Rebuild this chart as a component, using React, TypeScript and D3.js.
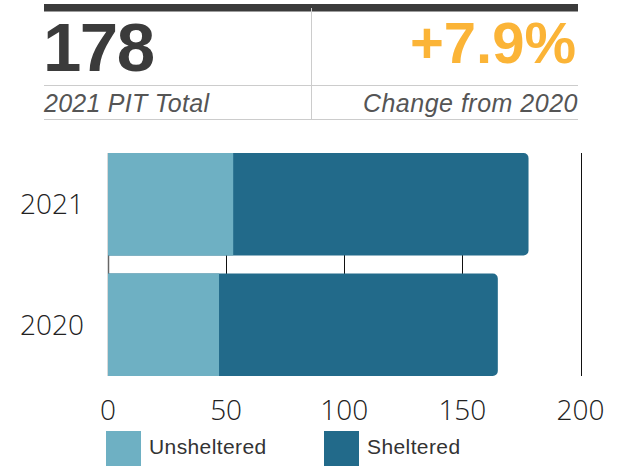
import React from "react";
import * as d3 from "d3";

const years = ["2021", "2020"];
const unsheltered = [53, 47];
const sheltered = [125, 118];
const seriesNames = ["Unsheltered", "Sheltered"];
const seriesColors = ["#6eb0c3", "#226a8a"];
const xTicks = [0, 50, 100, 150, 200];
const totalLabel = "178";
const totalCaption = "2021 PIT Total";
const changeLabel = "+7.9%";
const changeCaption = "Change from 2020";

export default function App() {
  const W = 620, H = 466;
  const x = d3.scaleLinear().domain([0, 200]).range([108, 580.5]);
  const y = d3.scaleBand().domain(years).range([153, 376]).paddingInner(0.15).paddingOuter(0);
  const rows = years.map((yr, i) => ({ yr, u: unsheltered[i], s: sheltered[i] }));
  const r = 5;

  const roundedRight = (x0: number, x1: number, y0: number, h: number) => {
    const p = d3.path();
    p.moveTo(x0, y0);
    p.lineTo(x1 - r, y0);
    p.arcTo(x1, y0, x1, y0 + r, r);
    p.lineTo(x1, y0 + h - r);
    p.arcTo(x1, y0 + h, x1 - r, y0 + h, r);
    p.lineTo(x0, y0 + h);
    p.closePath();
    return p.toString();
  };

  const sans = "'Liberation Sans', Arial, Helvetica, sans-serif";
  const open = "'Open Sans', sans-serif";

  return (
    <svg width={W} height={H} style={{ position: "absolute", left: 0, top: 0 }}>
      {/* header */}
      <rect x={44} y={4} width={534} height={7.5} fill="#3b3b3b" />
      <line x1={311.5} x2={311.5} y1={8} y2={120} stroke="#cccccc" strokeWidth={1} />
      <line x1={44} x2={578} y1={85.5} y2={85.5} stroke="#cccccc" strokeWidth={1} />
      <line x1={44} x2={578} y1={119.5} y2={119.5} stroke="#cccccc" strokeWidth={1} />
      <text x={43} y={70.5} fontFamily={sans} fontWeight={700} fontSize={69} letterSpacing={-1.5} fill="#3b3b3b">{totalLabel}</text>
      <text x={576} y={63} textAnchor="end" fontFamily={sans} fontWeight={700} fontSize={58} fill="#fbb437">{changeLabel}</text>
      <text x={44} y={111.5} fontFamily={sans} fontStyle="italic" fontSize={25} letterSpacing={0.25} fill="#555">{totalCaption}</text>
      <text x={578} y={111.5} textAnchor="end" fontFamily={sans} fontStyle="italic" fontSize={25} letterSpacing={0.5} fill="#555">{changeCaption}</text>

      {/* grid */}
      {xTicks.map((t) => (
        <line key={t} x1={Math.round(x(t)) + 0.5} x2={Math.round(x(t)) + 0.5} y1={153} y2={376}
          stroke={t === 0 ? "#666" : "#111"} strokeWidth={t === 0 ? 1.5 : 1} />
      ))}

      {/* bars */}
      {rows.map((d) => (
        <g key={d.yr}>
          <path d={roundedRight(x(0), x(d.u + d.s), y(d.yr)!, y.bandwidth())} fill={seriesColors[1]} />
          <rect x={x(0)} y={y(d.yr)!} width={x(d.u) - x(0)} height={y.bandwidth()} fill={seriesColors[0]} />
          <text x={84} y={y(d.yr)! + y.bandwidth() / 2} dy="0.36em" textAnchor="end"
            fontFamily={open} fontWeight={300} fontSize={28} fill="#222">{d.yr}</text>
        </g>
      ))}

      {/* x tick labels */}
      {xTicks.map((t) => (
        <text key={t} x={x(t)} y={420} textAnchor="middle" fontFamily={open} fontWeight={300}
          fontSize={28} fill="#222">{t}</text>
      ))}

      {/* legend */}
      {seriesNames.map((n, i) => (
        <g key={n} transform={`translate(${i === 0 ? 106 : 324},431)`}>
          <rect width={35} height={35} fill={seriesColors[i]} />
          <text x={43} y={23} fontFamily={sans} fontSize={21} letterSpacing={0.4} fill="#333">{n}</text>
        </g>
      ))}
    </svg>
  );
}
